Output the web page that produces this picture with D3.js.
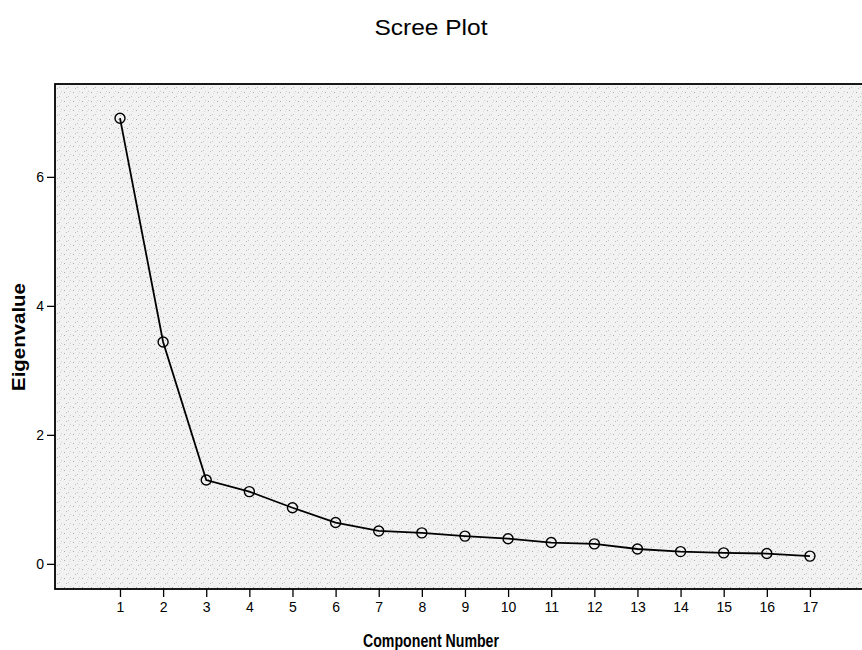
<!DOCTYPE html>
<html>
<head>
<meta charset="utf-8">
<script src="https://cdn.jsdelivr.net/npm/d3@7"></script>
<style>
  body { margin: 0; background: #fff; }
  svg { display: block; font-family: "Liberation Sans", Arial, sans-serif; }
</style>
</head>
<body>
<svg id="chart" width="862" height="650"></svg>
<script>
const components = [1,2,3,4,5,6,7,8,9,10,11,12,13,14,15,16,17];
const eigenvalues = [6.91,3.44,1.30,1.12,0.87,0.64,0.51,0.48,0.43,0.39,0.33,0.31,0.23,0.19,0.17,0.16,0.12];
const yTicks = [0,2,4,6];

const svg = d3.select("#chart");
const pLeft = 55, pRight = 866, pTop = 84, pBottom = 589;

const x = d3.scaleLinear().domain([-0.507, 18.3]).range([pLeft, pRight]);
const y = d3.scaleLinear().domain([-0.39, 7.44]).range([pBottom, pTop]);

// stipple pattern
const defs = svg.append("defs");
const pat = defs.append("pattern").attr("id","stip").attr("width",9).attr("height",9).attr("patternUnits","userSpaceOnUse");
pat.append("rect").attr("width",9).attr("height",9).attr("fill","#f2f2f2");
[[1,2,"#aaaaaa"],[5,6,"#c4c4c4"],[7,1,"#d0d0d0"],[3,7,"#bbbbbb"],[6,3,"#dadada"]].forEach(p=>{
  pat.append("rect").attr("x",p[0]).attr("y",p[1]).attr("width",1).attr("height",1).attr("fill",p[2]);
});

svg.append("rect").attr("x", pLeft).attr("y", pTop).attr("width", pRight-pLeft).attr("height", pBottom-pTop)
  .attr("fill", "url(#stip)").attr("stroke", "#000").attr("stroke-width", 1.8);

// Y axis
const yAxis = d3.axisLeft(y).tickValues(yTicks).tickSize(8).tickPadding(3).tickFormat(d3.format("d"));
const ya = svg.append("g").attr("transform", `translate(${pLeft},0)`).call(yAxis);
ya.select(".domain").remove();
ya.selectAll("line").attr("stroke","#000").attr("stroke-width",1.3);
ya.selectAll("text").attr("font-size", 14).attr("fill","#000").attr("font-family","Liberation Sans, Arial, sans-serif");

// X axis
const xAxis = d3.axisBottom(x).tickValues(components).tickSize(8).tickPadding(5).tickFormat(d3.format("d"));
const xa = svg.append("g").attr("transform", `translate(0,${pBottom})`).call(xAxis);
xa.select(".domain").remove();
xa.selectAll("line").attr("stroke","#000").attr("stroke-width",1.3);
xa.selectAll("text").attr("font-size", 14).attr("fill","#000").attr("font-family","Liberation Sans, Arial, sans-serif");

// line
const line = d3.line().x((d,i)=>x(components[i])).y(d=>y(d));
svg.append("path").datum(eigenvalues).attr("d", line).attr("fill","none").attr("stroke","#000").attr("stroke-width",1.8);

svg.selectAll("circle.pt").data(eigenvalues).join("circle").attr("class","pt")
  .attr("cx",(d,i)=>x(components[i])).attr("cy",d=>y(d)).attr("r",5)
  .attr("fill","none").attr("stroke","#000").attr("stroke-width",1.4);

// titles
svg.append("text").attr("x", 431).attr("y", 35).attr("text-anchor","middle")
  .attr("font-size", 22).attr("textLength", 113).attr("lengthAdjust","spacingAndGlyphs")
  .attr("fill","#000").text("Scree Plot");
svg.append("text").attr("x", 431).attr("y", 647).attr("text-anchor","middle")
  .attr("font-size", 19).attr("font-weight","bold").attr("textLength", 136).attr("lengthAdjust","spacingAndGlyphs")
  .attr("fill","#000").text("Component Number");
svg.append("text").attr("transform","translate(25,337) rotate(-90)").attr("text-anchor","middle")
  .attr("font-size", 18).attr("font-weight","bold").attr("textLength", 108).attr("lengthAdjust","spacingAndGlyphs")
  .attr("fill","#000").text("Eigenvalue");
</script>
</body>
</html>
